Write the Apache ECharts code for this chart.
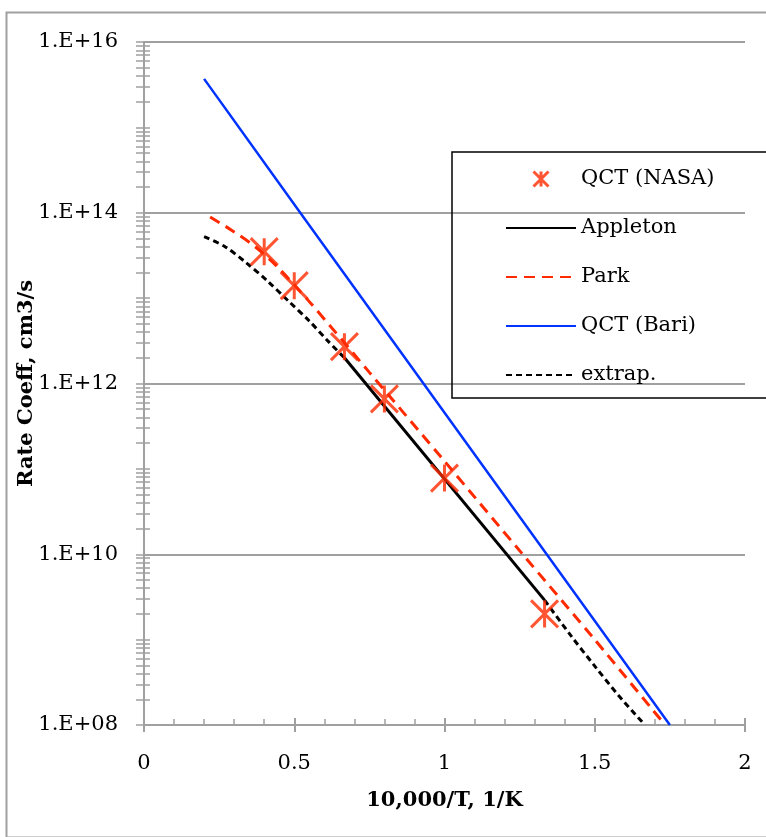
<!DOCTYPE html>
<html><head><meta charset="utf-8">
<script src="https://cdn.jsdelivr.net/npm/echarts@6/dist/echarts.min.js"></script>
<style>html,body{margin:0;padding:0;background:#fff}#c{width:766px;height:837px}</style>
</head><body><div id="c"></div>
<script>
// ---- data ----
const nasaX = [0.4, 0.5, 0.667, 0.8, 1.0, 1.333];
const nasaY = [3.5e13, 1.4e13, 2.7e12, 6.6e11, 7.8e10, 2.0e9];

const appletonX = [0.667, 1.333];
const appletonY = [2.0e12, 2.9e9];

const parkX = [0.22, 0.29, 0.37, 0.44, 0.55, 0.75, 1.0, 1.26, 1.5, 1.72];
const parkY = [8.9e13, 6.3e13, 4.0e13, 2.4e13, 9.1e12, 1.35e12, 1.23e11, 1.0e10, 1.0e9, 1.15e8];

const bariX = [0.2, 0.52, 1.34, 1.75];
const bariY = [3.7e15, 1.0e14, 1.0e10, 1.0e8];

const extrapHiX = [0.2, 0.27, 0.34, 0.41, 0.48, 0.55, 0.61, 0.667];
const extrapHiY = [5.25e13, 4.0e13, 2.6e13, 1.6e13, 9.3e12, 5.4e12, 3.2e12, 2.0e12];
const extrapLoX = [1.333, 1.42, 1.5, 1.58, 1.667];
const extrapLoY = [2.9e9, 1.12e9, 4.9e8, 2.2e8, 1.0e8];

const xTicks = [0, 0.5, 1, 1.5, 2];
const yMajor = [1e8, 1e10, 1e12, 1e14, 1e16];

// ---- styling ----
const FONT = 'DejaVu Serif';
const RED = '#FF2A00', BLUE = '#0033FF', GRAY = '#A0A0A0';
const STAR = 'path://M0,0L20,20M20,0L0,20M10,0L10,20';

function pairs(xs, ys) { return xs.map((x, i) => [x, ys[i]]); }
const minorVals = [];
for (let e = 8; e < 16; e++) for (let k = 1; k < 10; k++) minorVals.push(k * Math.pow(10, e));
minorVals.push(1e16);

function yLabel(v) {
  const e = Math.round(Math.log10(v));
  return '1.E+' + String(e).padStart(2, '0');
}

const chart = echarts.init(document.getElementById('c'), null, {renderer: 'canvas'});
const txt = {fontFamily: FONT, fontSize: 21, color: '#000'};
const yMin = yMajor[0], yMax = yMajor[yMajor.length - 1];

chart.setOption({
  animation: false,
  backgroundColor: '#fff',
  graphic: [{
    type: 'rect', left: 4, top: 10, z: -10, silent: true,
    shape: {width: 800, height: 825},
    style: {fill: 'none', stroke: GRAY, lineWidth: 2}
  }],
  grid: {left: 144, right: 21, top: 42, bottom: 112, containLabel: false},
  legend: {
    orient: 'vertical', left: 452, top: 152, align: 'left',
    padding: [15, 60, 11, 53],
    itemWidth: 70, itemHeight: 15, itemGap: 25,
    borderColor: '#000', borderWidth: 1.5, backgroundColor: 'transparent',
    textStyle: Object.assign({lineHeight: 24}, txt),
    data: [
      {name: 'QCT (NASA)', icon: STAR, itemStyle: {color: RED, borderColor: RED, borderWidth: 3}},
      {name: 'Appleton', itemStyle: {opacity: 0}},
      {name: 'Park', itemStyle: {opacity: 0}},
      {name: 'QCT (Bari)', itemStyle: {opacity: 0}},
      {name: 'extrap.', itemStyle: {opacity: 0}}
    ]
  },
  xAxis: [{
    type: 'value', min: xTicks[0], max: xTicks[xTicks.length - 1], interval: 0.5, position: 'bottom',
    axisLine: {lineStyle: {color: GRAY, width: 2}},
    axisTick: {inside: true, length: 7, lineStyle: {color: GRAY, width: 2}},
    minorTick: {show: true, splitNumber: 5, length: 6, lineStyle: {color: GRAY, width: 1.5}},
    splitLine: {show: false},
    axisLabel: Object.assign({margin: 28}, txt),
    name: '10,000/T, 1/K', nameLocation: 'middle', nameGap: 65, nameMoveOverlap: false,
    nameTextStyle: Object.assign({}, txt, {fontWeight: 'bold'})
  }, {
    type: 'value', min: xTicks[0], max: xTicks[xTicks.length - 1], interval: 0.5, position: 'bottom',
    axisLine: {show: false},
    axisTick: {inside: false, length: 7, lineStyle: {color: GRAY, width: 2}},
    splitLine: {show: false}, axisLabel: {show: false}
  }],
  yAxis: [{
    type: 'log', logBase: 10, min: yMin, max: yMax, position: 'left',
    axisLine: {show: true, lineStyle: {color: GRAY, width: 2}},
    axisTick: {show: false, customValues: yMajor},
    splitLine: {show: true, lineStyle: {color: GRAY, width: 2}},
    axisLabel: Object.assign({margin: 26, formatter: yLabel, customValues: yMajor}, txt),
    name: 'Rate Coeff, cm3/s', nameLocation: 'middle', nameGap: 107, nameMoveOverlap: false,
    nameTextStyle: Object.assign({}, txt, {fontWeight: 'bold'})
  }, {
    type: 'log', logBase: 10, min: yMin, max: yMax, position: 'left', offset: 0,
    axisLine: {show: false}, splitLine: {show: false}, axisLabel: {show: false},
    axisTick: {show: true, inside: false, length: 8, customValues: minorVals, lineStyle: {color: GRAY, width: 1.5}}
  }, {
    type: 'log', logBase: 10, min: yMin, max: yMax, position: 'left', offset: 0,
    axisLine: {show: false}, splitLine: {show: false}, axisLabel: {show: false},
    axisTick: {show: true, inside: true, length: 6, customValues: minorVals, lineStyle: {color: GRAY, width: 1.5}}
  }],
  series: [{
    name: 'QCT (NASA)', type: 'scatter', z: 5, data: pairs(nasaX, nasaY),
    symbol: STAR, symbolSize: 27,
    itemStyle: {color: RED, borderColor: RED, borderWidth: 3}
  }, {
    name: 'Appleton', type: 'line', symbol: 'none', data: pairs(appletonX, appletonY),
    lineStyle: {color: '#000', width: 3}, itemStyle: {color: '#000'}
  }, {
    name: 'Park', type: 'line', symbol: 'none', smooth: 0.3, data: pairs(parkX, parkY),
    lineStyle: {color: RED, width: 3, type: [11, 7]}, itemStyle: {color: RED}
  }, {
    name: 'QCT (Bari)', type: 'line', symbol: 'none', data: pairs(bariX, bariY),
    lineStyle: {color: BLUE, width: 2.5}, itemStyle: {color: BLUE}
  }, {
    name: 'extrap.', type: 'line', symbol: 'none', smooth: 0.3, data: pairs(extrapHiX, extrapHiY),
    lineStyle: {color: '#000', width: 3, type: [6, 4]}, itemStyle: {color: '#000'}
  }, {
    name: 'extrap.', type: 'line', symbol: 'none', smooth: 0.3, data: pairs(extrapLoX, extrapLoY),
    lineStyle: {color: '#000', width: 3, type: [6, 4]}, itemStyle: {color: '#000'}
  }]
});
</script>
</body></html>
